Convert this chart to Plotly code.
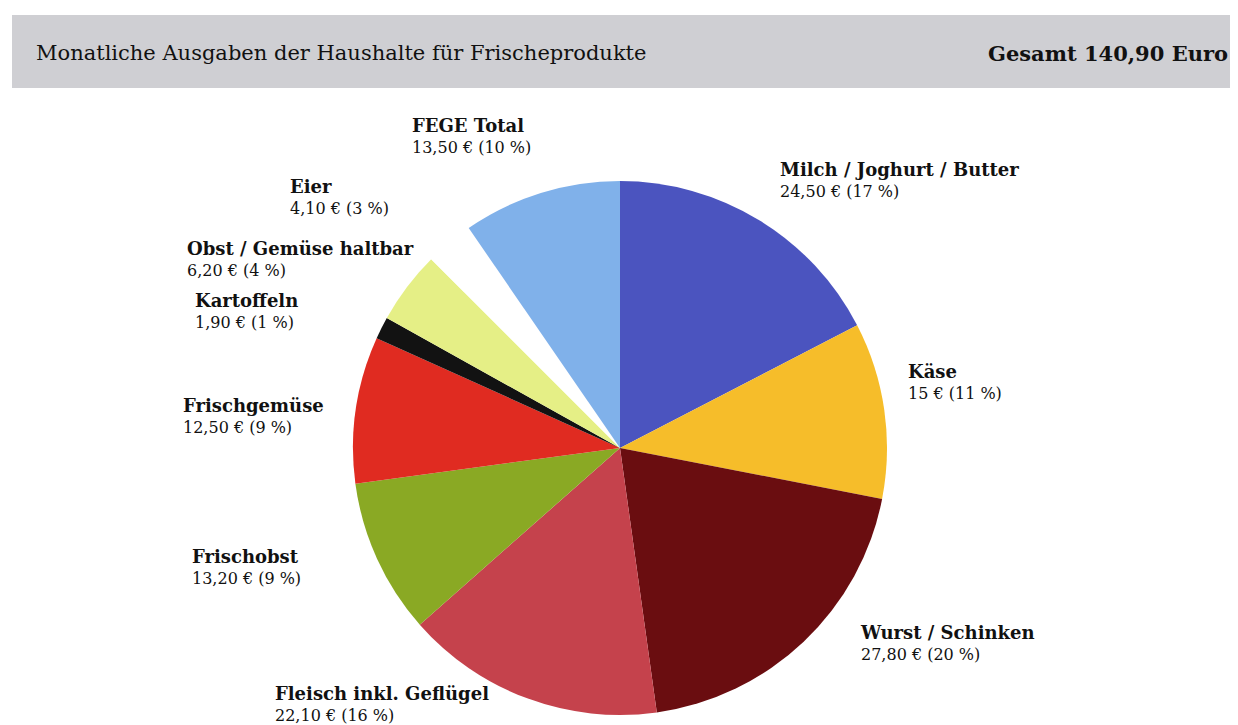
import plotly.graph_objects as go

# page shows the figure with an 8px body margin, so the figure is 8px smaller
OFF = 8
W, H = 1238 - OFF, 725 - OFF

categories = ["Milch / Joghurt / Butter", "Käse", "Wurst / Schinken", "Fleisch inkl. Geflügel",
              "Frischobst", "Frischgemüse", "Kartoffeln", "Obst / Gemüse haltbar", "Eier", "FEGE Total"]
values = [24.50, 15.00, 27.80, 22.10, 13.20, 12.50, 1.90, 6.20, 4.10, 13.50]
percents = [17, 11, 20, 16, 9, 9, 1, 4, 3, 10]
colors = ["#4b54bf", "#f6bd2a", "#6a0d10", "#c5424c", "#8aa924", "#e02b21",
          "#121212", "#e5ef86", "#ffffff", "#80b1ea"]
total_label = "Gesamt 140,90 Euro"
title_text = "Monatliche Ausgaben der Haushalte für Frischeprodukte"

# label anchor positions in screen pixels (left edge, centre of the name line)
label_pos = [(780, 169), (908, 371), (860, 632), (275, 693), (192, 556),
             (183, 405), (195, 300), (187, 248), (290, 186), (412, 125)]


def fmt(v):
    if abs(v - round(v)) < 1e-9:
        return f"{int(round(v))}"
    return f"{v:.2f}".replace(".", ",")


def px(x):
    return (x - OFF) / W


def py(y):
    return 1 - (y - OFF) / H


fig = go.Figure()
fig.add_trace(go.Pie(
    labels=categories, values=values, sort=False, direction="clockwise", rotation=0,
    marker=dict(colors=colors, line=dict(width=0)),
    textinfo="none", hoverinfo="label+value", showlegend=False,
    domain=dict(x=[px(353), px(887)], y=[py(715), py(181)]),
))

shapes = [dict(type="rect", xref="paper", yref="paper",
               x0=px(12), x1=1.0, y0=py(88), y1=py(15),
               fillcolor="#cfcfd3", line=dict(width=0), layer="below")]

annotations = [
    dict(text=title_text, xref="paper", yref="paper", x=px(34), y=py(53),
         xanchor="left", yanchor="middle", showarrow=False,
         font=dict(family="DejaVu Serif", size=21, color="#111111")),
    dict(text="<b>" + total_label + "</b>", xref="paper", yref="paper", x=px(1230), y=py(53),
         xanchor="right", yanchor="middle", showarrow=False,
         font=dict(family="DejaVu Serif", size=21, color="#111111")),
]
for cat, v, p, (lx, ly) in zip(categories, values, percents, label_pos):
    annotations.append(dict(
        text=f"<b><span style='font-size:18px'>{cat}</span></b><br>{fmt(v)} € ({p} %)",
        xref="paper", yref="paper", x=px(lx - 2), y=py(ly - 12),
        xanchor="left", yanchor="top", align="left", showarrow=False,
        font=dict(family="DejaVu Serif", size=16, color="#111111")))

fig.update_layout(
    width=W, height=H, margin=dict(l=0, r=0, t=0, b=0),
    paper_bgcolor="white", plot_bgcolor="white",
    shapes=shapes, annotations=annotations,
)
fig.write_html("out.html")
